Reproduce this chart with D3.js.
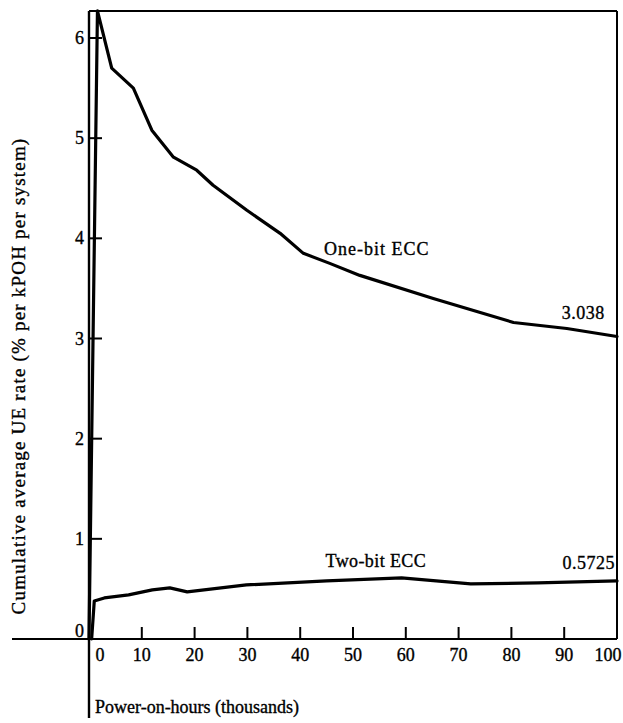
<!DOCTYPE html>
<html>
<head>
<meta charset="utf-8">
<script src="https://cdn.jsdelivr.net/npm/d3@7"></script>
<style>
  html, body { margin: 0; padding: 0; background: #fff; }
  svg { display: block; }
  text { font-family: "Liberation Serif", "Times New Roman", serif; fill: #000; stroke: #000; stroke-width: 0.35px; }
</style>
</head>
<body>
<svg id="chart" width="623" height="723"></svg>
<script>
// ---- Data ----
const xTicks = [0, 10, 20, 30, 40, 50, 60, 70, 80, 90, 100];
const yTicks = [0, 1, 2, 3, 4, 5, 6];

const oneBitHours = [0, 1.6, 4.3, 8.4, 11.9, 16.0, 20.4, 23.5, 29.9, 36.2, 40.6, 45.6, 51.3, 65.2, 80.4, 90.5, 100];
const oneBitRate  = [0, 6.27, 5.70, 5.50, 5.08, 4.81, 4.68, 4.53, 4.28, 4.05, 3.85, 3.75, 3.63, 3.40, 3.16, 3.10, 3.02];

const twoBitHours = [0.5, 1.0, 2.9, 7.5, 12, 15.3, 18.6, 29.8, 45, 59.2, 72.3, 85, 100];
const twoBitRate  = [0, 0.38, 0.41, 0.44, 0.49, 0.51, 0.47, 0.54, 0.58, 0.61, 0.55, 0.56, 0.58];

const seriesNames = ["One-bit ECC", "Two-bit ECC"];
const endValues = ["3.038", "0.5725"];
const xTitle = "Power-on-hours (thousands)";
const yTitle = "Cumulative average UE rate (% per kPOH per system)";

// ---- Scales ----
const svg = d3.select("#chart");
const x = d3.scaleLinear().domain([0, 100]).range([89, 617]);
const y = d3.scaleLinear().domain([0, 6]).range([639, 38]);
const yTop = 6.27;

const line = d3.line().x(d => x(d[0])).y(d => y(d[1]));

// ---- Frame ----
const frame = svg.append("g").attr("stroke", "#000").attr("fill", "none");
frame.append("line").attr("x1", x(0)).attr("x2", x(100)).attr("y1", y(yTop)).attr("y2", y(yTop)).attr("stroke-width", 2);
frame.append("line").attr("x1", x(100)).attr("x2", x(100)).attr("y1", y(yTop)).attr("y2", y(0)).attr("stroke-width", 2);
frame.append("line").attr("x1", 12).attr("x2", x(100)).attr("y1", y(0)).attr("y2", y(0)).attr("stroke-width", 2.2);
frame.append("line").attr("x1", x(0)).attr("x2", x(0)).attr("y1", y(yTop)).attr("y2", 718).attr("stroke-width", 2.4);

// ---- Y ticks ----
const yt = svg.append("g");
yTicks.filter(d => d > 0).forEach(d => {
  yt.append("line").attr("x1", x(0)).attr("x2", x(0) + 13).attr("y1", y(d)).attr("y2", y(d))
    .attr("stroke", "#000").attr("stroke-width", 2);
});
yTicks.forEach(d => {
  yt.append("text").attr("x", x(0) - 5).attr("y", y(d) + (d === 0 ? -8 : 0))
    .attr("dy", "0.34em").attr("text-anchor", "end").attr("font-size", 18).text(d);
});

// ---- X ticks ----
const xt = svg.append("g");
xTicks.filter(d => d > 0 && d < 100).forEach(d => {
  xt.append("line").attr("x1", x(d)).attr("x2", x(d)).attr("y1", y(0)).attr("y2", y(0) - 12)
    .attr("stroke", "#000").attr("stroke-width", 2);
});
xTicks.forEach(d => {
  let px = x(d);
  if (d === 0) px += 11;
  if (d === 100) px -= 9;
  xt.append("text").attr("x", px).attr("y", 661).attr("text-anchor", "middle")
    .attr("font-size", 18).text(d);
});

// ---- Series ----
svg.append("path").datum(oneBitHours.map((h, i) => [h, oneBitRate[i]]))
  .attr("d", line).attr("fill", "none").attr("stroke", "#000").attr("stroke-width", 3.2)
  .attr("stroke-linejoin", "round").attr("stroke-linecap", "round");
svg.append("path").datum(twoBitHours.map((h, i) => [h, twoBitRate[i]]))
  .attr("d", line).attr("fill", "none").attr("stroke", "#000").attr("stroke-width", 3.2)
  .attr("stroke-linejoin", "round").attr("stroke-linecap", "round");

// ---- Annotations ----
svg.append("text").attr("x", x(44.5)).attr("y", y(3.83)).attr("font-size", 18)
  .attr("letter-spacing", 1).text(seriesNames[0]);
svg.append("text").attr("x", x(97.7)).attr("y", y(3.19)).attr("text-anchor", "end").attr("font-size", 18)
  .attr("letter-spacing", 0.5).text(endValues[0]);
svg.append("text").attr("x", x(44.8)).attr("y", y(0.72)).attr("font-size", 18)
  .attr("letter-spacing", 0.4).text(seriesNames[1]);
svg.append("text").attr("x", x(100) - 2).attr("y", y(0.7)).attr("text-anchor", "end").attr("font-size", 18)
  .attr("letter-spacing", 0.5).text(endValues[1]);

// ---- Axis titles ----
svg.append("text").attr("x", x(0) + 6).attr("y", 713).attr("font-size", 18).text(xTitle);
svg.append("text").attr("transform", "translate(25," + 376 + ") rotate(-90)")
  .attr("text-anchor", "middle").attr("font-size", 19).attr("letter-spacing", 1.2).text(yTitle);
</script>
</body>
</html>
